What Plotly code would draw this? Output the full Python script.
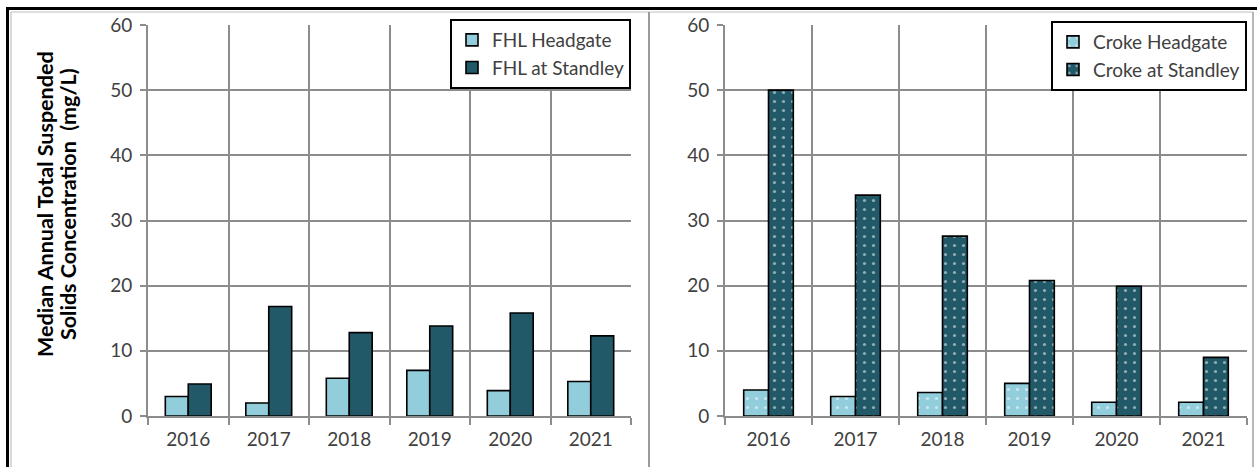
import plotly.graph_objects as go

years = ["2016", "2017", "2018", "2019", "2020", "2021"]
fhl_headgate = [3, 2, 5.8, 7, 3.9, 5.3]
fhl_standley = [4.9, 16.8, 12.8, 13.8, 15.8, 12.3]
croke_headgate = [4.0, 3.0, 3.6, 5.0, 2.1, 2.1]
croke_standley = [50, 33.9, 27.6, 20.8, 19.9, 9]

y_ticks = [0, 10, 20, 30, 40, 50, 60]
y_title_lines = ["Median Annual Total Suspended", "Solids Concentration  (mg/L)"]

LIGHT = "#92CDDC"
DARK = "#215968"
GRID = "#8c8c8c"
TXT = "#404040"
FONT = "Lato"
W, H = 1257, 467

def px(v):
    return v / W

def py(v):
    return 1 - v / H

fig = go.Figure()
line = dict(color="black", width=1.6)
fig.add_trace(go.Bar(x=years, y=fhl_headgate, name="FHL Headgate",
                     marker=dict(color=LIGHT, line=line), xaxis="x", yaxis="y", legend="legend"))
fig.add_trace(go.Bar(x=years, y=fhl_standley, name="FHL at Standley",
                     marker=dict(color=DARK, line=line), xaxis="x", yaxis="y", legend="legend"))
pat = dict(shape=".", fgcolor="white", size=9, solidity=0.1)
fig.add_trace(go.Bar(x=years, y=croke_headgate, name="Croke Headgate",
                     marker=dict(color=LIGHT, line=line, pattern=pat), xaxis="x2", yaxis="y2", legend="legend2"))
fig.add_trace(go.Bar(x=years, y=croke_standley, name="Croke at Standley",
                     marker=dict(color=DARK, line=line, pattern=pat), xaxis="x2", yaxis="y2", legend="legend2"))

xax = dict(type="category", tickson="boundaries", showgrid=True, gridcolor=GRID, gridwidth=1.6,
           ticks="outside", ticklen=7, tickcolor=GRID, tickwidth=1.6, showline=True,
           linecolor=GRID, linewidth=1.6, tickfont=dict(family=FONT, size=19, color=TXT),
           ticklabelstandoff=5, fixedrange=True, automargin=False)
yax = dict(range=[0, 60], tickvals=y_ticks, showgrid=True, gridcolor=GRID, gridwidth=1.6,
           ticks="outside", ticklen=6, tickcolor=GRID, tickwidth=1.6, showline=True,
           linecolor=GRID, linewidth=1.6, zeroline=False, automargin=False, fixedrange=True,
           tickfont=dict(family=FONT, size=19, color=TXT), ticklabelstandoff=4)

dom_y = [py(416), py(25)]
leg = dict(bgcolor="white", bordercolor="black", borderwidth=2,
           font=dict(family=FONT, size=19, color=TXT), tracegroupgap=0, itemwidth=30)
annots = []
for i, t in enumerate(y_title_lines):
    annots.append(dict(text="<b>" + t + "</b>", textangle=-90, xref="paper", yref="paper",
                       x=px(45 + 23 * i), y=py(204), xanchor="center", yanchor="middle",
                       showarrow=False, font=dict(family=FONT, size=21.5, color="black")))

fig.update_layout(
    width=W, height=H, margin=dict(l=0, r=0, t=0, b=0, pad=0, autoexpand=False),
    paper_bgcolor="white", plot_bgcolor="white",
    barmode="group", bargap=0.43, bargroupgap=0,
    font=dict(family=FONT, color=TXT),
    showlegend=True,
    xaxis=dict(domain=[px(148), px(631)], anchor="y", **xax),
    yaxis=dict(domain=dom_y, anchor="x", **yax),
    xaxis2=dict(domain=[px(725), px(1247)], anchor="y2", **xax),
    yaxis2=dict(domain=dom_y, anchor="x2", **yax),
    legend=dict(x=px(631), xanchor="right", y=py(19), yanchor="top", **leg),
    legend2=dict(x=px(1247), xanchor="right", y=py(21), yanchor="top", **leg),
    annotations=annots,
    shapes=[
        dict(type="line", xref="paper", yref="paper", x0=px(11), x1=px(1253), y0=py(12), y1=py(12),
             line=dict(color="#c0c0c0", width=1.2)),
        dict(type="line", xref="paper", yref="paper", x0=px(11), x1=px(11), y0=py(12), y1=0,
             line=dict(color="#c0c0c0", width=1.2)),
        dict(type="line", xref="paper", yref="paper", x0=px(1253), x1=px(1253), y0=py(12), y1=0,
             line=dict(color="#a0a0a0", width=1.5)),
        dict(type="line", xref="paper", yref="paper", x0=px(649), x1=px(649), y0=py(12), y1=0,
             line=dict(color="#909090", width=1.8)),
        dict(type="line", xref="paper", yref="paper", x0=px(6), x1=1, y0=py(8.5), y1=py(8.5),
             line=dict(color="black", width=3)),
        dict(type="line", xref="paper", yref="paper", x0=px(7.5), x1=px(7.5), y0=py(7), y1=0,
             line=dict(color="black", width=3)),
    ],
)

post = ("document.body.style.margin='0';document.body.style.padding='0';"
        "var d=document.getElementById('{plot_id}');d.style.position='absolute';"
        "d.style.left='0px';d.style.top='0px';")
fig.write_html("out.html", post_script=post, config={"displayModeBar": False})
